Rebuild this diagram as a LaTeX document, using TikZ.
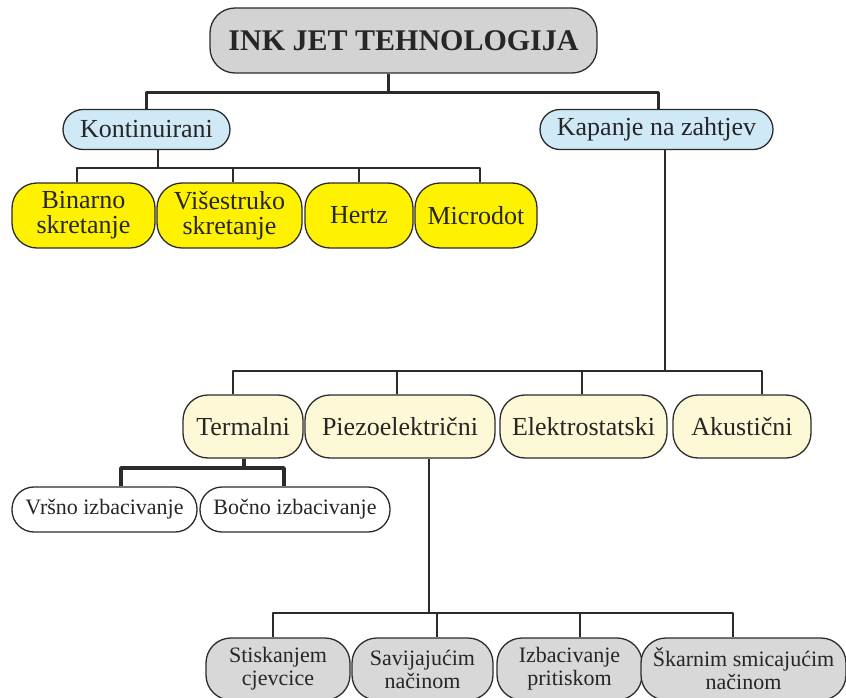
\documentclass[tikz,border=0pt]{standalone}
\usepackage{fontspec}
\setmainfont{Liberation Serif}
\usepackage{tikz}
\usetikzlibrary{calc,positioning}
\definecolor{darkline}{HTML}{2B2B2B}
\definecolor{titlegray}{HTML}{D3D3D3}
\definecolor{lightblue}{HTML}{CFE9F7}
\definecolor{brightyellow}{HTML}{FFF200}
\definecolor{paleyellow}{HTML}{FDF8D5}
\definecolor{boxgray}{HTML}{D8D8D8}

\begin{document}
\begin{tikzpicture}[x=1pt, y=-1pt, line join=round]
   \useasboundingbox (0,0) rectangle (846,698);
   \begin{scope}[every node/.style={draw=darkline,line width=1.3pt,align=center,inner sep=0pt,text=black!85}]
    \node (title) [fill=titlegray, rounded corners=25pt, minimum width=387pt, minimum height=65pt, font=\bfseries\fontsize{30}{30}\selectfont] at (403.5,40.5) {INK JET TEHNOLOGIJA};
    % second level
    \node (kont) [fill=lightblue, rounded corners=20pt, minimum width=167pt, minimum height=40pt, font=\fontsize{26}{25}\selectfont] at (146.5,129.5) {Kontinuirani};
    \node (kap) [fill=lightblue, rounded corners=20pt, minimum width=233pt, minimum height=40pt, font=\fontsize{26}{25}\selectfont] at (656.5,129.5) {Kapanje na zahtjev};
    % continuous
    \node (bin) [fill=brightyellow, rounded corners=25pt, minimum width=143pt, minimum height=65pt, font=\fontsize{26}{25}\selectfont] at (83.5,215.5) {Binarno\\skretanje};
    \node (vis) [fill=brightyellow, rounded corners=25pt, minimum width=145pt, minimum height=65pt, font=\fontsize{26}{25}\selectfont] at (229.5,215.5) {Višestruko\\skretanje};
    \node (hertz) [fill=brightyellow, rounded corners=25pt, minimum width=108pt, minimum height=65pt, font=\fontsize{26}{25}\selectfont] at (359,215.5) {Hertz};
    \node (micro) [fill=brightyellow, rounded corners=25pt, minimum width=122pt, minimum height=65pt, font=\fontsize{26}{25}\selectfont] at (476,215.5) {Microdot};
    % drop on demand
    \node (term) [fill=paleyellow, rounded corners=25pt, minimum width=120pt, minimum height=63pt, font=\fontsize{26}{25}\selectfont] at (243,426.5) {Termalni};
    \node (piezo) [fill=paleyellow, rounded corners=25pt, minimum width=190pt, minimum height=63pt, font=\fontsize{26}{25}\selectfont] at (400,426.5) {Piezoelektrični};
    \node (elek) [fill=paleyellow, rounded corners=25pt, minimum width=167pt, minimum height=63pt, font=\fontsize{26}{25}\selectfont] at (583.5,426.5) {Elektrostatski};
    \node (akus) [fill=paleyellow, rounded corners=25pt, minimum width=138pt, minimum height=63pt, font=\fontsize{26}{25}\selectfont] at (742,426.5) {Akustični};
    % thermal
    \node (vrs) [fill=white, rounded corners=22pt, minimum width=185pt, minimum height=45pt, font=\fontsize{22}{22}\selectfont] at (104.5,509.5) {Vršno izbacivanje};
    \node (boc) [fill=white, rounded corners=22pt, minimum width=190pt, minimum height=45pt, font=\fontsize{22}{22}\selectfont] at (295,509.5) {Bočno izbacivanje};
    % piezo
    \node (stis) [fill=boxgray, rounded corners=25pt, minimum width=144pt, minimum height=62pt, font=\fontsize{22}{23}\selectfont] at (278,669) {Stiskanjem\\cjevcice};
    \node (sav) [fill=boxgray, rounded corners=25pt, minimum width=141pt, minimum height=62pt, font=\fontsize{22}{23}\selectfont] at (422.5,669) {Savijajućim\\načinom};
    \node (izb) [fill=boxgray, rounded corners=25pt, minimum width=145pt, minimum height=62pt, font=\fontsize{22}{23}\selectfont] at (569.5,669) {Izbacivanje\\pritiskom};
    \node (skar) [fill=boxgray, rounded corners=25pt, minimum width=205pt, minimum height=62pt, font=\fontsize{22}{23}\selectfont] at (743.5,669) {Škarnim smicajućim\\načinom};
   \end{scope}
   \begin{scope}[darkline, line width=1.8pt]
    \coordinate (tbus) at (388,93);
    \draw[line width=3pt] (title.south -| tbus) -- (tbus);
    \draw[line width=3pt] (kont.north) |- (tbus) -| ([xshift=1.5pt]kap.north);
    \coordinate (kbus) at (158,168);
    \draw (kont.south -| kbus) -- (kbus);
    \draw ([xshift=-6.5pt]bin.north) |- (kbus) -| ([xshift=4pt]micro.north);
    \draw ([xshift=3.5pt]vis.north) -- ++(0,-15);
    \draw (hertz.north) -- ++(0,-15);
    \coordinate (pbus) at (665,371);
    \draw (kap.south -| pbus) -- (pbus);
    \draw ([xshift=-10pt]term.north) |- (pbus) -| ([xshift=20pt]akus.north);
    \draw ([xshift=-3pt]piezo.north) -- ++(0,-24);
    \draw ([xshift=-1.5pt]elek.north) -- ++(0,-24);
    \coordinate (tmbus) at (244,468);
    \draw[line width=3.5pt] (term.south -| tmbus) -- (tmbus);
    \draw[line width=3.5pt] ([xshift=16.5pt]vrs.north) |- (tmbus) -| ([xshift=-11pt]boc.north);
    \coordinate (zbus) at (429,613);
    \draw (piezo.south -| zbus) -- (zbus);
    \draw ([xshift=-5pt]stis.north) |- (zbus) -| ([xshift=-10.5pt]skar.north);
    \draw ([xshift=14.5pt]sav.north) -- ++(0,-25);
    \draw ([xshift=10.5pt]izb.north) -- ++(0,-25);
   \end{scope}
\end{tikzpicture}
\end{document}
